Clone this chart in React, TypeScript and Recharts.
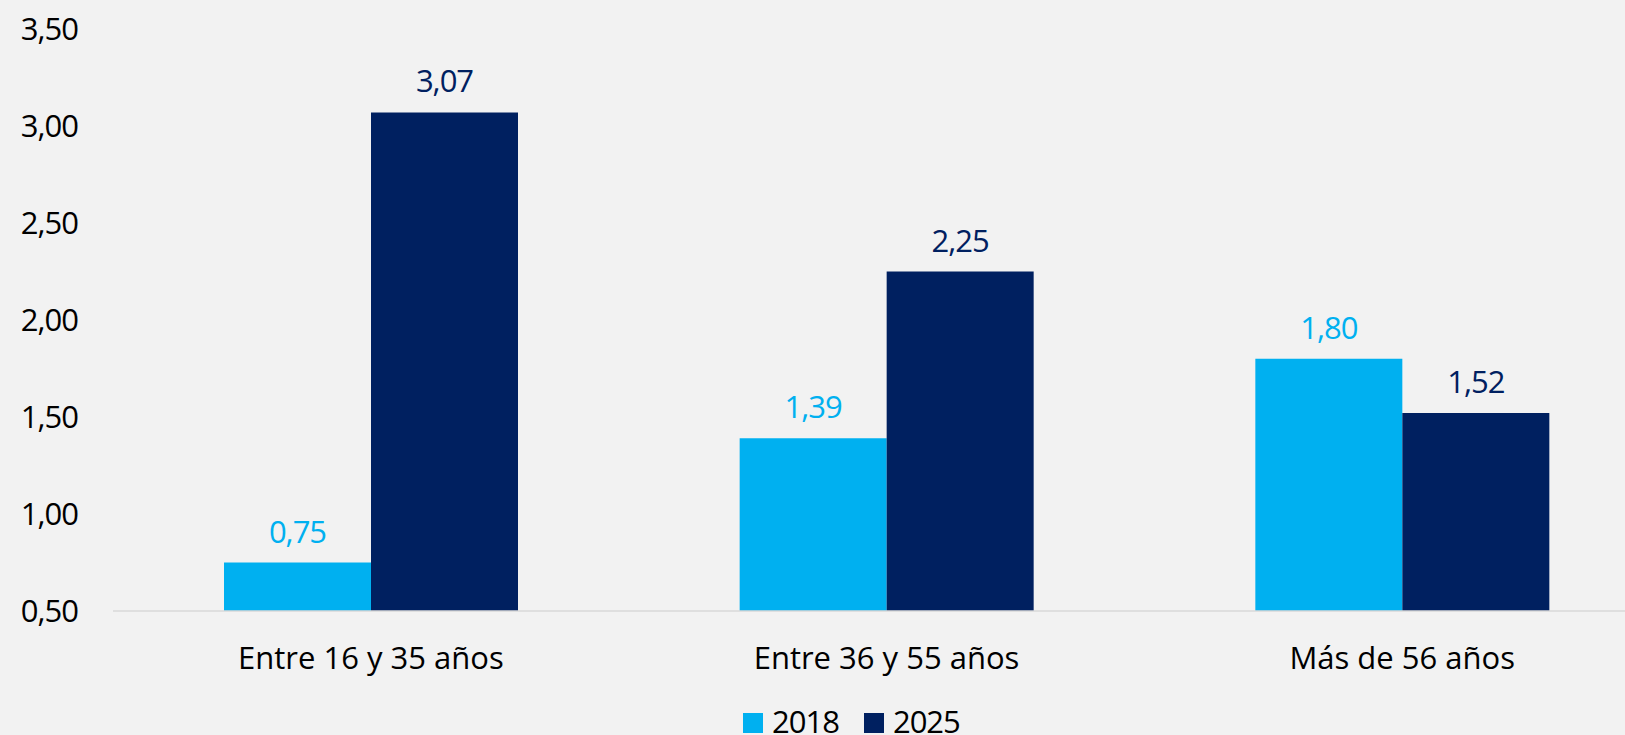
import { Bar, BarChart, LabelList, Legend, XAxis, YAxis } from 'recharts';

const categories = ['Entre 16 y 35 años', 'Entre 36 y 55 años', 'Más de 56 años'];
const values2018 = [0.75, 1.39, 1.8];
const values2025 = [3.07, 2.25, 1.52];
const yTicks = [0.5, 1, 1.5, 2, 2.5, 3, 3.5];

const LIGHT = '#00B0F0';
const DARK = '#002060';
const FONT = '"Open Sans", "Noto Sans", sans-serif';
const FS = 31;

const fmt = (v: number) => v.toFixed(2).replace('.', ',');

const data = categories.map((name, i) => ({
  name,
  y2018: values2018[i],
  y2025: values2025[i],
}));

function LegendContent() {
  const items = [
    { label: '2018', color: LIGHT },
    { label: '2025', color: DARK },
  ];
  return (
    <div style={{ display: 'flex', alignItems: 'center', paddingLeft: 743, height: FS }}>
      {items.map((it) => (
        <div key={it.label} style={{ display: 'flex', alignItems: 'center', marginRight: 25 }}>
          <span style={{ width: 20, height: 20, background: it.color, display: 'inline-block', marginTop: 2 }} />
          <span
            style={{
              fontFamily: FONT,
              fontSize: FS,
              lineHeight: `${FS}px`,
              letterSpacing: -1,
              color: '#000',
              marginLeft: 9,
            }}
          >
            {it.label}
          </span>
        </div>
      ))}
    </div>
  );
}

export default function App() {
  return (
    <div
      style={{
        position: 'absolute',
        left: 0,
        top: 0,
        width: 1625,
        height: 735,
        background: '#F2F2F2',
        overflow: 'hidden',
      }}
    >
      <BarChart
        width={1625}
        height={735}
        data={data}
        margin={{ top: 29, right: -35, left: 0, bottom: 0 }}
        barGap={0}
        barSize={147}
      >
        <XAxis
          dataKey="name"
          axisLine={{ stroke: '#D9D9D9', strokeWidth: 1.5 }}
          tickLine={false}
          tickSize={0}
          tickMargin={36}
          height={94}
          tick={{ fill: '#000', fontSize: FS, fontFamily: FONT }}
          interval={0}
        />
        <YAxis
          domain={[0.5, 3.5]}
          ticks={yTicks}
          width={113}
          axisLine={false}
          tickLine={false}
          tickSize={0}
          tickMargin={35}
          tickFormatter={fmt}
          tick={{ fill: '#000', fontSize: FS, fontFamily: FONT, letterSpacing: -1 }}
        />
        <Legend
          verticalAlign="bottom"
          content={<LegendContent />}
          wrapperStyle={{ top: 706, left: 0, width: 1625, height: 30 }}
        />
        <Bar dataKey="y2018" name="2018" fill={LIGHT} isAnimationActive={false}>
          <LabelList
            dataKey="y2018"
            position="top"
            offset={20}
            formatter={(v: number) => fmt(v)}
            fill={LIGHT}
            fontSize={FS}
            fontFamily={FONT}
            letterSpacing={-1}
          />
        </Bar>
        <Bar dataKey="y2025" name="2025" fill={DARK} isAnimationActive={false}>
          <LabelList
            dataKey="y2025"
            position="top"
            offset={20}
            formatter={(v: number) => fmt(v)}
            fill={DARK}
            fontSize={FS}
            fontFamily={FONT}
            letterSpacing={-1}
          />
        </Bar>
      </BarChart>
    </div>
  );
}
